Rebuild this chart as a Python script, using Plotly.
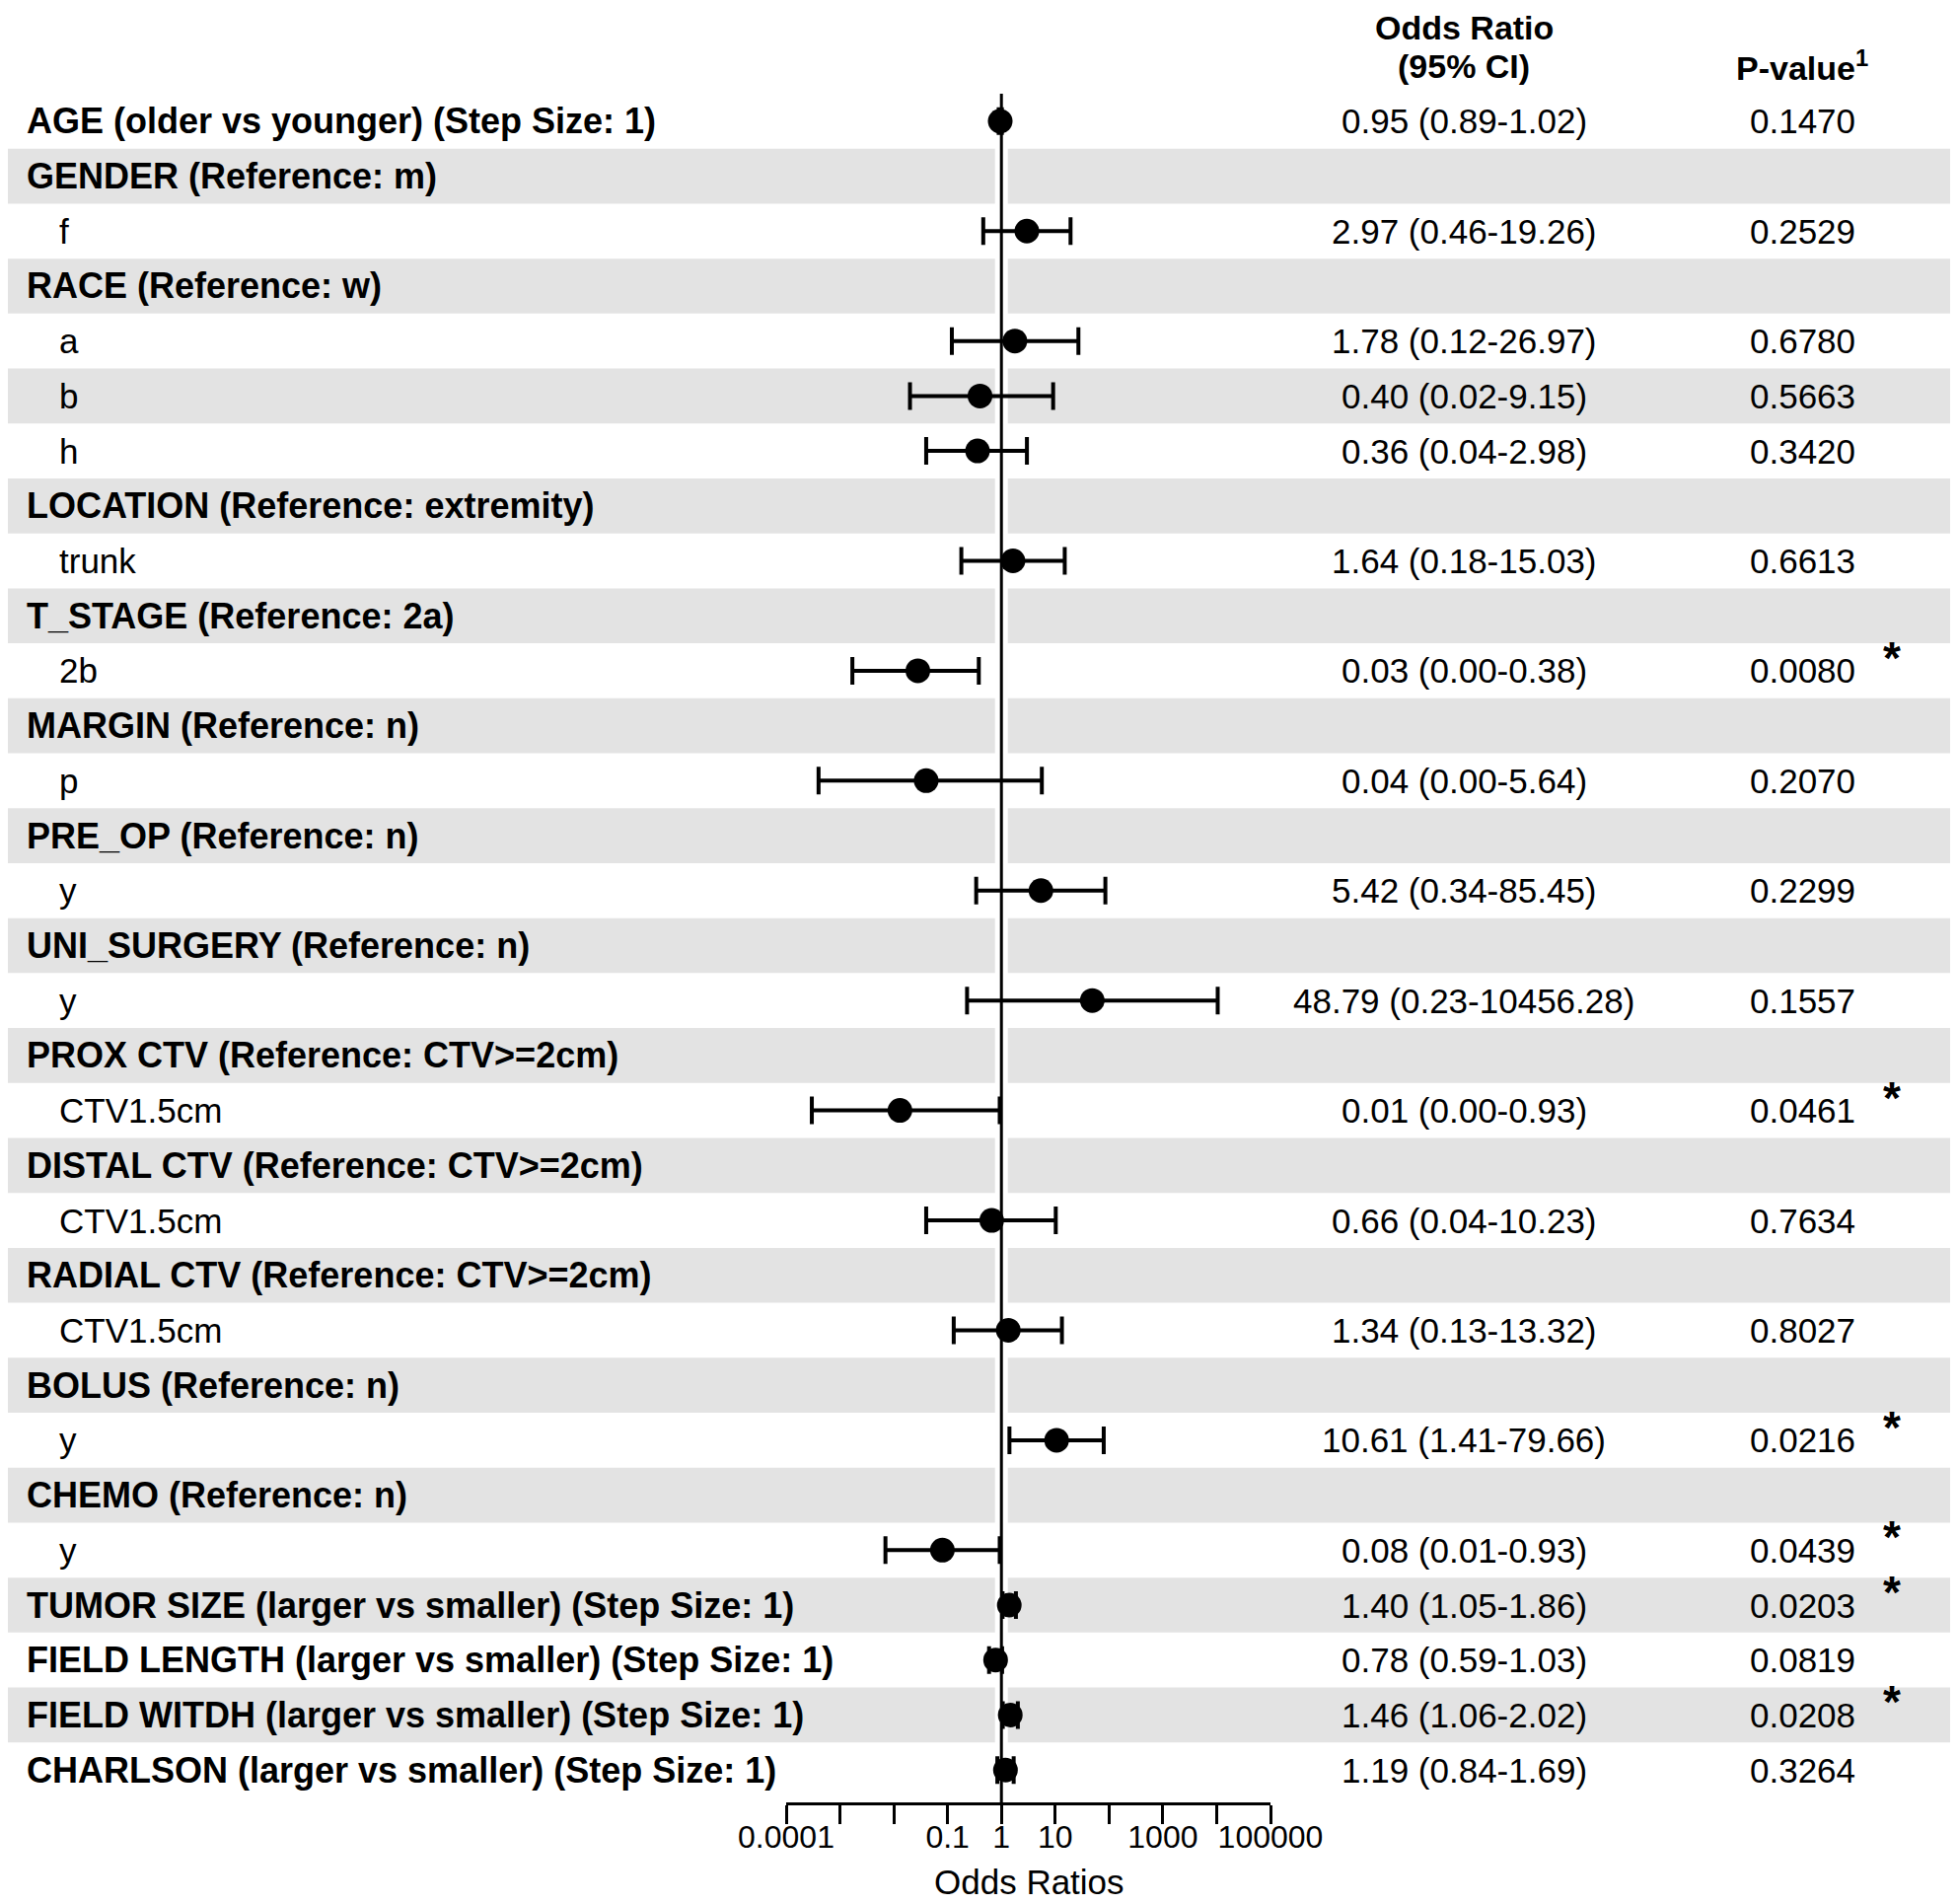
import plotly.graph_objects as go

labels = [
    "AGE (older vs younger) (Step Size: 1)", "GENDER (Reference: m)", "f",
    "RACE (Reference: w)", "a", "b", "h",
    "LOCATION (Reference: extremity)", "trunk",
    "T_STAGE (Reference: 2a)", "2b",
    "MARGIN (Reference: n)", "p",
    "PRE_OP (Reference: n)", "y",
    "UNI_SURGERY (Reference: n)", "y",
    "PROX CTV (Reference: CTV>=2cm)", "CTV1.5cm",
    "DISTAL CTV (Reference: CTV>=2cm)", "CTV1.5cm",
    "RADIAL CTV (Reference: CTV>=2cm)", "CTV1.5cm",
    "BOLUS (Reference: n)", "y",
    "CHEMO (Reference: n)", "y",
    "TUMOR SIZE (larger vs smaller) (Step Size: 1)",
    "FIELD LENGTH (larger vs smaller) (Step Size: 1)",
    "FIELD WITDH (larger vs smaller) (Step Size: 1)",
    "CHARLSON (larger vs smaller) (Step Size: 1)",
]
is_level = [False, False, True, False, True, True, True, False, True, False, True,
            False, True, False, True, False, True, False, True, False, True,
            False, True, False, True, False, True, False, False, False, False]

odds = [0.95, None, 2.97, None, 1.78, 0.40, 0.36, None, 1.64, None, 0.028,
        None, 0.04, None, 5.42, None, 48.79, None, 0.013, None, 0.66,
        None, 1.34, None, 10.61, None, 0.08, 1.40, 0.78, 1.46, 1.19]
lower = [0.89, None, 0.46, None, 0.12, 0.02, 0.04, None, 0.18, None, 0.0017,
         None, 0.0004, None, 0.34, None, 0.23, None, 0.0003, None, 0.04,
         None, 0.13, None, 1.41, None, 0.007, 1.05, 0.59, 1.06, 0.84]
upper = [1.02, None, 19.26, None, 26.97, 9.15, 2.98, None, 15.03, None, 0.38,
         None, 5.64, None, 85.45, None, 10456.28, None, 0.93, None, 10.23,
         None, 13.32, None, 79.66, None, 0.93, 1.86, 1.03, 2.02, 1.69]
pvals = [0.1470, None, 0.2529, None, 0.6780, 0.5663, 0.3420, None, 0.6613, None, 0.0080,
         None, 0.2070, None, 0.2299, None, 0.1557, None, 0.0461, None, 0.7634,
         None, 0.8027, None, 0.0216, None, 0.0439, 0.0203, 0.0819, 0.0208, 0.3264]

tick_vals = [0.0001, 0.001, 0.01, 0.1, 1, 10, 100, 1000, 10000, 100000]
tick_text = ["0.0001", " ", " ", "0.1", "1", "10", " ", "1000", " ", "100000"]

W, H = 1985, 1930
OFF = 8  # page body margin shifts the figure right/down
FONT = "Liberation Sans, Arial, sans-serif"
n = len(labels)
rows = list(range(n))


def px(x):
    return (x - OFF) / W


err_plus = [u - o if o is not None else None for o, u in zip(odds, upper)]
err_minus = [o - l if o is not None else None for o, l in zip(odds, lower)]

fig = go.Figure()
fig.add_trace(go.Scatter(
    x=odds, y=rows, mode="markers",
    marker=dict(color="black", size=25),
    error_x=dict(type="data", array=err_plus, arrayminus=err_minus,
                 color="black", thickness=4, width=14),
    showlegend=False, hoverinfo="skip",
))

# alternating row shading
for i in rows:
    if i % 2 == 1:
        fig.add_shape(type="rect", xref="paper", yref="y",
                      x0=px(6), x1=px(1978), y0=i - 0.5, y1=i + 0.5,
                      fillcolor="#e3e3e3", line_width=0, layer="below")

# reference line at OR = 1 (white gap in the shading, then the line)
fig.add_shape(type="line", xref="x", yref="paper", x0=1, x1=1, y0=0, y1=1,
              line=dict(color="white", width=13), layer="below")
fig.add_shape(type="line", xref="x", yref="paper", x0=1, x1=1, y0=0, y1=1,
              line=dict(color="black", width=3), layer="below")

ann = []
for i in rows:
    if is_level[i]:
        ann.append(dict(x=px(58), y=i, xref="paper", yref="y", text=labels[i],
                        xanchor="left", yanchor="middle", showarrow=False,
                        font=dict(size=35, color="black", family=FONT)))
    else:
        ann.append(dict(x=px(25), y=i, xref="paper", yref="y",
                        text="<b>" + labels[i] + "</b>",
                        xanchor="left", yanchor="middle", showarrow=False,
                        font=dict(size=36, color="black", family=FONT)))
    if odds[i] is not None:
        ann.append(dict(x=px(1484), y=i, xref="paper", yref="y",
                        text=f"{odds[i]:.2f} ({lower[i]:.2f}-{upper[i]:.2f})",
                        xanchor="center", yanchor="middle", showarrow=False,
                        font=dict(size=35, color="black", family=FONT)))
    if pvals[i] is not None:
        ann.append(dict(x=px(1827), y=i, xref="paper", yref="y",
                        text=f"{pvals[i]:.4f}", xanchor="center", yanchor="middle",
                        showarrow=False, font=dict(size=35, color="black", family=FONT)))
        if pvals[i] < 0.05:
            ann.append(dict(x=px(1918), y=i, xref="paper", yref="y", text="<b>*</b>",
                            xanchor="center", yanchor="middle", showarrow=False, yshift=13,
                            font=dict(size=46, color="black", family=FONT)))

top, bottom = 95 - OFF, 1827 - OFF
ph = bottom - top


def py(y):
    return (bottom - (y - OFF)) / ph


ann.append(dict(x=px(1484), y=py(28), xref="paper", yref="paper",
                text="<b>Odds Ratio</b>", showarrow=False, xanchor="center", yanchor="middle",
                font=dict(size=34, color="black", family=FONT)))
ann.append(dict(x=px(1484), y=py(67), xref="paper", yref="paper",
                text="<b>(95% CI)</b>", showarrow=False, xanchor="center", yanchor="middle",
                font=dict(size=34, color="black", family=FONT)))
ann.append(dict(x=px(1827), y=py(67), xref="paper", yref="paper",
                text="<b>P-value<sup>1</sup></b>", showarrow=False, xanchor="center",
                yanchor="middle", font=dict(size=34, color="black", family=FONT)))
ann.append(dict(x=px(1043), y=py(1907), xref="paper", yref="paper",
                text="Odds Ratios", showarrow=False, xanchor="center", yanchor="middle",
                font=dict(size=35, color="black", family=FONT)))

fig.update_layout(
    width=W, height=H,
    margin=dict(l=0, r=0, t=top, b=H - bottom, pad=0, autoexpand=False),
    paper_bgcolor="white", plot_bgcolor="white",
    annotations=ann,
    xaxis=dict(type="log", range=[-4, 5], domain=[px(797), px(1288)],
               tickvals=tick_vals, ticktext=tick_text, ticks="outside", tickangle=0,
               ticklen=19, tickwidth=2.5, tickcolor="black", ticklabelstandoff=-14,
               showline=True, linecolor="black", linewidth=2.5,
               showgrid=False, zeroline=False, automargin=False,
               tickfont=dict(size=32, color="black", family=FONT)),
    yaxis=dict(range=[n - 0.41, -0.5], visible=False, showgrid=False,
               zeroline=False, automargin=False),
)

fig.write_html("out.html")
